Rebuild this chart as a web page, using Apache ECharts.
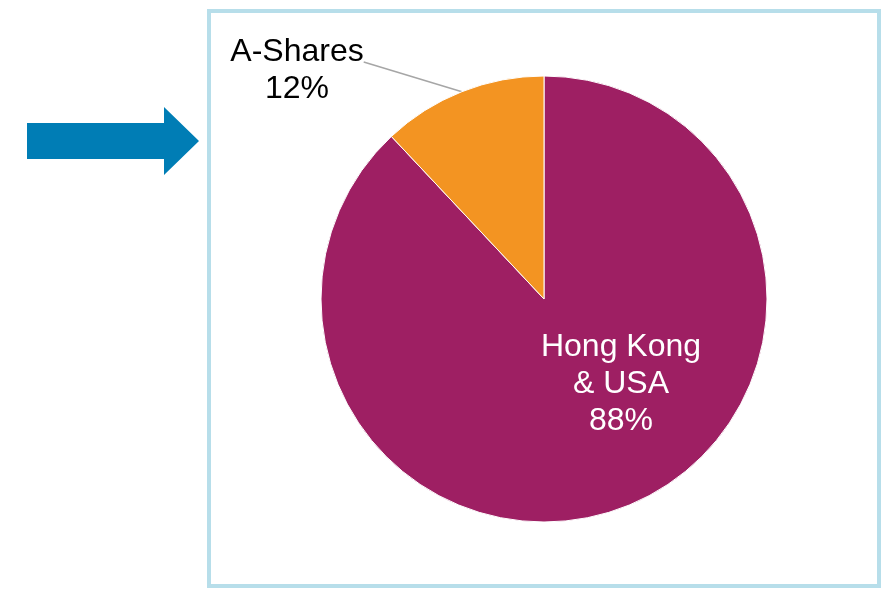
<!DOCTYPE html>
<html>
<head>
<meta charset="utf-8">
<script src="https://cdn.jsdelivr.net/npm/echarts@6/dist/echarts.min.js"></script>
<style>
html,body{margin:0;padding:0;background:#fff;}
#chart{width:884px;height:590px;}
</style>
</head>
<body>
<div id="chart"></div>
<script>
var categories = ['Hong Kong & USA', 'A-Shares'];
var values = [88, 12];
var colors = ['#9E1F63', '#F39422'];

var chart = echarts.init(document.getElementById('chart'));
var font = 'Liberation Sans, Arial, sans-serif';

chart.setOption({
  animation: false,
  backgroundColor: '#ffffff',
  graphic: [
    {
      type: 'rect',
      shape: { x: 209, y: 11, width: 670, height: 575 },
      style: { fill: 'none', stroke: '#B7DEEA', lineWidth: 4 },
      silent: true
    },
    {
      type: 'polygon',
      shape: { points: [[27,123],[164,123],[164,107],[199,141],[164,175],[164,159],[27,159]] },
      style: { fill: '#007DB5' },
      silent: true
    }
  ],
  series: [{
    type: 'pie',
    center: [544, 299],
    radius: 223,
    startAngle: 90,
    clockwise: true,
    itemStyle: { borderColor: '#ffffff', borderWidth: 1 },
    label: {
      show: true,
      fontFamily: font,
      fontSize: 32,
      lineHeight: 37,
      align: 'center'
    },
    labelLine: {
      show: true,
      lineStyle: { color: '#A6A6A6', width: 1.5 },
      length: 20,
      length2: 0
    },
    labelLayout: function (p) {
      if (p.dataIndex === 0) {
        return { x: 621, y: 384, align: 'center', verticalAlign: 'middle' };
      }
      return { x: 297, y: 62, align: 'center', verticalAlign: 'middle' };
    },
    emphasis: { disabled: true },
    data: [
      { name: categories[0], value: values[0], itemStyle: { color: colors[0] },
        label: {
          position: 'inside', color: '#ffffff',
          formatter: function (p) { return p.name.replace(' & ', '\n& ') + '\n' + p.value + '%'; }
        },
        labelLine: { show: false } },
      { name: categories[1], value: values[1], itemStyle: { color: colors[1] },
        label: {
          position: 'outside', color: '#000000',
          formatter: function (p) { return '{s| }\n{t|' + p.name + '}\n{t|' + p.value + '%}'; },
          rich: {
            s: { fontSize: 10, lineHeight: 18 },
            t: { fontFamily: font, fontSize: 32, lineHeight: 37, color: '#000000', align: 'center' }
          }
        } }
    ]
  }]
});
</script>
</body>
</html>
